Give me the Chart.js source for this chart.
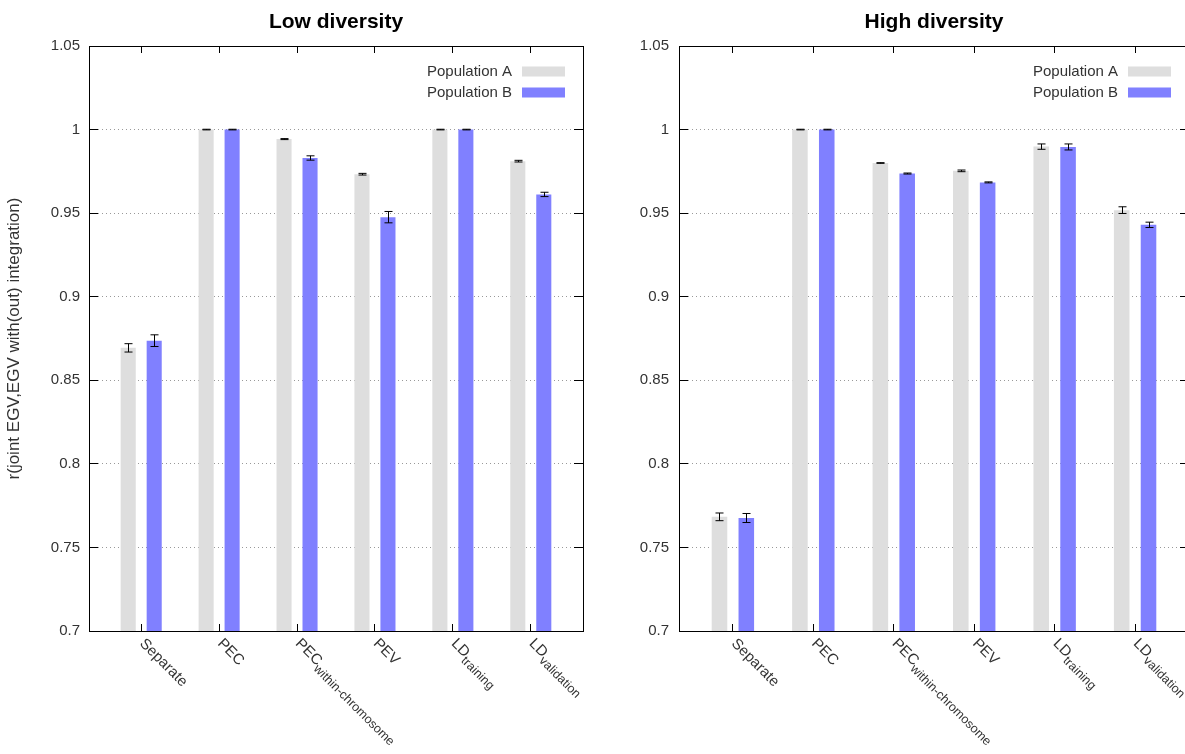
<!DOCTYPE html>
<html>
<head>
<meta charset="utf-8">
<script src="https://cdn.jsdelivr.net/npm/chart.js@4/dist/chart.umd.min.js"></script>
<style>
  html, body { margin: 0; padding: 0; background: #fff; overflow: hidden; width: 1185px; height: 754px; }
  canvas { position: absolute; top: 0; }
  #low { left: 0; }
  #high { left: 600px; }
</style>
</head>
<body>
<canvas id="low" width="600" height="754"></canvas>
<canvas id="high" width="600" height="754"></canvas>
<script>
// categories + subscript part of each label
const categories = ["Separate", "PEC", "PEC", "PEV", "LD", "LD"];
const subscripts = ["", "", "within-chromosome", "", "training", "validation"];
const seriesNames = ["Population A", "Population B"];
const seriesColors = ["#dedede", "#8080ff"];

// low diversity
const lowPopA = [0.8694, 1.0, 0.9943, 0.9733, 1.0, 0.9811];
const lowPopB = [0.8737, 1.0, 0.9830, 0.9476, 1.0, 0.9612];
const lowErrA = [0.0025, 0.0002, 0.0003, 0.0005, 0.0002, 0.0005];
const lowErrB = [0.0035, 0.0002, 0.0013, 0.0034, 0.0002, 0.0013];

// high diversity
const highPopA = [0.7683, 1.0, 0.9800, 0.9753, 0.9898, 0.9518];
const highPopB = [0.7676, 1.0, 0.9737, 0.9684, 0.9896, 0.9430];
const highErrA = [0.0023, 0.0002, 0.0002, 0.0005, 0.0016, 0.0020];
const highErrB = [0.0027, 0.0002, 0.0003, 0.0003, 0.0018, 0.0016];

const yMin = 0.7;
const yMax = 1.05;
const yStep = 0.05;
const xMin = -0.67;
const xMax = 5.67;

const FONT = '"Liberation Sans", Arial, sans-serif';
Chart.defaults.font.family = FONT;
Chart.defaults.color = "#333";

const errorBars = {
  id: "errorBars",
  afterDatasetsDraw(chart) {
    const { ctx } = chart;
    const yScale = chart.scales.y;
    chart.data.datasets.forEach((ds, di) => {
      const meta = chart.getDatasetMeta(di);
      meta.data.forEach((bar, i) => {
        const v = ds.data[i].y;
        const e = ds.errors[i];
        const top = yScale.getPixelForValue(v + e);
        const bottom = yScale.getPixelForValue(v - e);
        const x = Math.round(bar.x) + 0.5;
        ctx.save();
        ctx.strokeStyle = "#000";
        ctx.lineWidth = 1;
        ctx.beginPath();
        ctx.moveTo(x, top);
        ctx.lineTo(x, bottom);
        ctx.moveTo(x - 4, top);
        ctx.lineTo(x + 4, top);
        ctx.moveTo(x - 4, bottom);
        ctx.lineTo(x + 4, bottom);
        ctx.stroke();
        ctx.restore();
      });
    });
  },
};

// rotated tick labels with subscripts
const xLabels = {
  id: "xLabels",
  afterDraw(chart) {
    const { ctx, chartArea } = chart;
    const xScale = chart.scales.x;
    categories.forEach((name, i) => {
      const x = xScale.getPixelForValue(i);
      ctx.save();
      ctx.translate(x + 6, chartArea.bottom + 5);
      ctx.rotate(Math.PI / 4);
      ctx.fillStyle = "#333";
      ctx.textAlign = "left";
      ctx.textBaseline = "top";
      ctx.font = `15px ${FONT}`;
      ctx.fillText(name, 0, 0);
      if (subscripts[i]) {
        const w = ctx.measureText(name).width;
        ctx.font = `12.5px ${FONT}`;
        ctx.fillText(subscripts[i], w, 7);
      }
      ctx.restore();
    });
  },
};

const innerLegend = {
  id: "innerLegend",
  afterDraw(chart) {
    const { ctx, chartArea } = chart;
    chart.data.datasets.forEach((ds, i) => {
      const cy = chartArea.top + 25.5 + i * 21;
      const boxRight = chartArea.right - 18;
      ctx.save();
      ctx.fillStyle = ds.backgroundColor;
      ctx.fillRect(boxRight - 43, cy - 5, 43, 10);
      ctx.fillStyle = "#333";
      ctx.font = `15px ${FONT}`;
      ctx.textAlign = "right";
      ctx.textBaseline = "middle";
      ctx.fillText(ds.label, boxRight - 53, cy);
      ctx.restore();
    });
  },
};

const isEdge = (v) => Math.abs(v - yMin) < 1e-6 || Math.abs(v - yMax) < 1e-6;

const buildChart = (id, title, popA, popB, errA, errB, cfg) => {
  const toPoints = (vals) => vals.map((v, i) => ({ x: i, y: v }));
  const catTicks = (scale) => {
    scale.ticks = categories.map((_, i) => ({ value: i }));
  };

  return new Chart(document.getElementById(id), {
    type: "bar",
    data: {
      datasets: [
        { label: seriesNames[0], data: toPoints(popA), errors: errA, backgroundColor: seriesColors[0] },
        { label: seriesNames[1], data: toPoints(popB), errors: errB, backgroundColor: seriesColors[1] },
      ],
    },
    options: {
      responsive: false,
      animation: false,
      categoryPercentage: 0.667,
      barPercentage: 0.58,
      layout: { padding: { left: 0, right: cfg.padRight, top: 0, bottom: 0 } },
      plugins: {
        legend: { display: false },
        tooltip: { enabled: false },
        title: {
          display: true,
          text: title,
          fullSize: false,
          color: "#000",
          font: { size: 21, weight: "bold" },
          padding: { top: 10, bottom: 10.8 },
        },
      },
      scales: {
        x: {
          type: "linear",
          position: "bottom",
          offset: false,
          min: xMin,
          max: xMax,
          afterBuildTicks: catTicks,
          ticks: { display: false },
          grid: { offset: false, drawOnChartArea: false, tickLength: -7, tickColor: "#000", tickBorderDash: [] },
          border: { display: true, color: "#000", width: 1 },
          afterFit: (s) => { s.height = 123; },
        },
        x2: {
          type: "linear",
          position: "top",
          offset: false,
          min: xMin,
          max: xMax,
          afterBuildTicks: catTicks,
          ticks: { display: false },
          grid: { offset: false, drawOnChartArea: false, tickLength: -7, tickColor: "#000", tickBorderDash: [] },
          border: { display: true, color: "#000", width: 1 },
          afterFit: (s) => { s.height = 0; },
        },
        y: {
          type: "linear",
          position: "left",
          min: yMin,
          max: yMax,
          ticks: {
            stepSize: yStep,
            padding: cfg.tickPad,
            color: "#333",
            font: { size: 15 },
            callback: (v) => String(+v.toFixed(2)),
          },
          grid: {
            color: (c) => (c.tick && isEdge(c.tick.value) ? "rgba(0,0,0,0)" : "#999"),
            tickColor: "#000",
            tickLength: -9,
            tickBorderDash: [],
          },
          border: { display: true, color: "#000", width: 1, dash: [1, 3] },
          title: {
            display: !!cfg.yTitle,
            text: cfg.yTitle || "",
            color: "#333",
            font: { size: 17 },
            padding: { top: 4, bottom: 0 },
          },
          afterFit: (s) => { s.width = cfg.yWidth; },
        },
        y2: {
          type: "linear",
          position: "right",
          min: yMin,
          max: yMax,
          ticks: { stepSize: yStep, display: false },
          grid: { drawOnChartArea: false, tickLength: -9, tickColor: "#000", tickBorderDash: [] },
          border: { display: true, color: "#000", width: 1 },
          afterFit: (s) => { s.width = 0; },
        },
      },
    },
    plugins: [errorBars, xLabels, innerLegend],
  });
};

buildChart("low", "Low diversity", lowPopA, lowPopB, lowErrA, lowErrB, {
  yWidth: 89,
  padRight: 17,
  tickPad: 18,
  yTitle: "r(joint EGV,EGV with(out) integration)",
});

buildChart("high", "High diversity", highPopA, highPopB, highErrA, highErrB, {
  yWidth: 79,
  padRight: 11,
  tickPad: 19,
});
</script>
</body>
</html>
